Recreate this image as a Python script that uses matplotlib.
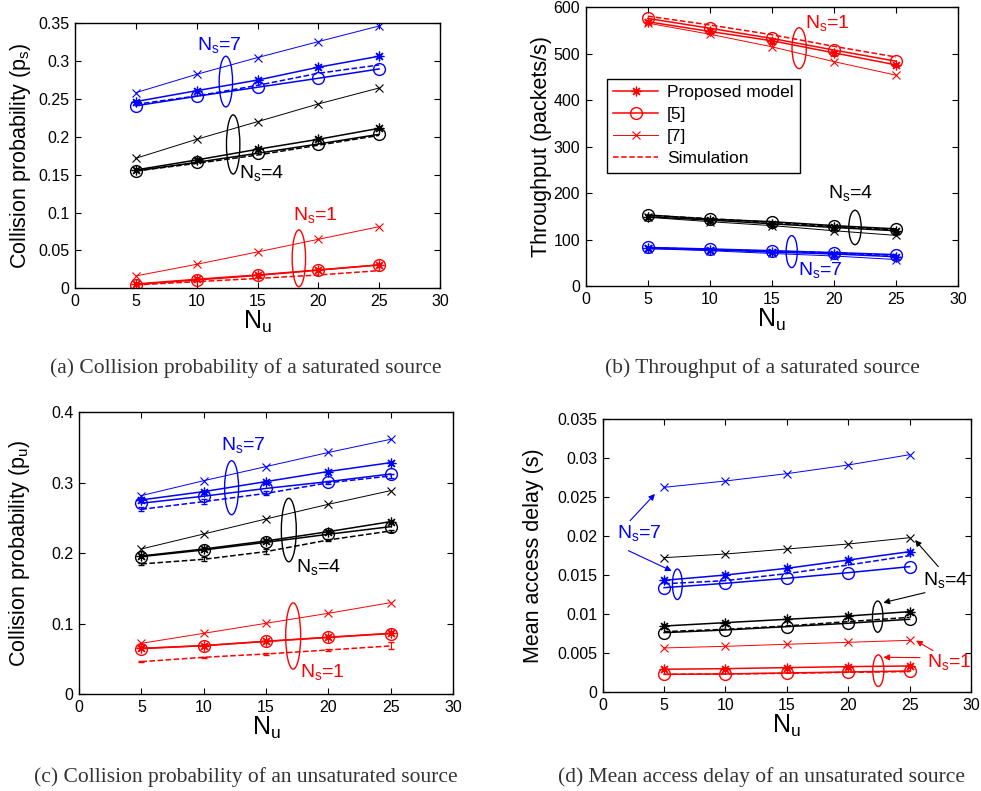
import matplotlib
matplotlib.use("Agg")
import matplotlib.pyplot as plt
from matplotlib.patches import Ellipse

plt.rcParams['font.family'] = ['Liberation Sans', 'DejaVu Sans']
plt.rcParams['mathtext.default'] = 'regular'

# x values
Nu = [5, 10, 15, 20, 25]
ns_colors = ['red', 'black', 'blue']   # Ns = 1, 4, 7

# (a) collision probability, saturated  -- lists ordered Ns=1, 4, 7
ps_prop = [[0.0057, 0.0119, 0.0176, 0.0242, 0.0308],
           [0.1563, 0.1695, 0.1836, 0.1968, 0.2113],
           [0.2466, 0.2610, 0.2750, 0.2920, 0.3065]]
ps_ref5 = [[0.0050, 0.0110, 0.0170, 0.0240, 0.0310],
           [0.1550, 0.1664, 0.1783, 0.1906, 0.2034],
           [0.2410, 0.2536, 0.2655, 0.2774, 0.2897]]
ps_ref7 = [[0.0163, 0.0317, 0.0480, 0.0647, 0.0814],
           [0.1717, 0.1968, 0.2201, 0.2435, 0.2646],
           [0.2584, 0.2826, 0.3047, 0.3258, 0.3465]]
ps_sim = [[0.0044, 0.0088, 0.0130, 0.0176, 0.0233],
          [0.1550, 0.1650, 0.1760, 0.1890, 0.2020],
          [0.2430, 0.2540, 0.2680, 0.2840, 0.2950]]

# (b) throughput, saturated
thr_prop = [[569, 548, 528, 502, 476],
            [149, 142, 134, 126, 119],
            [81, 78, 73, 69, 63]]
thr_ref5 = [[576, 555, 533, 508, 484],
            [153, 144, 138.5, 130, 123],
            [83, 79.7, 76, 72, 67.5]]
thr_ref7 = [[566, 542, 515, 483, 454],
            [148, 138.5, 130, 119, 109],
            [80.5, 76, 70, 64.6, 57]]
thr_sim = [[581, 562, 541, 516, 493],
           [152, 145, 137, 128, 121],
           [82, 79, 75, 71, 66]]

# (c) collision probability, unsaturated
pu_prop = [[0.0652, 0.0690, 0.0752, 0.0809, 0.0865],
           [0.1962, 0.2061, 0.2175, 0.2307, 0.2449],
           [0.2757, 0.2875, 0.3017, 0.3160, 0.3286]]
pu_ref5 = [[0.0648, 0.0690, 0.0750, 0.0807, 0.0862],
           [0.1953, 0.2047, 0.2156, 0.2270, 0.2378],
           [0.2710, 0.2810, 0.2920, 0.3017, 0.3125]]
pu_ref7 = [[0.0723, 0.0865, 0.1007, 0.1149, 0.1300],
           [0.2061, 0.2274, 0.2487, 0.2695, 0.2889],
           [0.2818, 0.3030, 0.3230, 0.3430, 0.3617]]
pu_sim = [[0.0463, 0.0525, 0.0572, 0.0629, 0.0686],
          [0.1849, 0.1915, 0.2024, 0.2189, 0.2317],
          [0.2624, 0.2733, 0.2850, 0.3000, 0.3097]]
pu_err = [[0.001, 0.001, 0.001, 0.002, 0.005],
          [0.002, 0.003, 0.004, 0.002, 0.002],
          [0.003, 0.004, 0.003, 0.002, 0.003]]

# (d) mean access delay, unsaturated
dl_prop = [[0.00295, 0.00303, 0.00316, 0.00329, 0.00337],
           [0.00849, 0.00892, 0.00935, 0.00977, 0.01033],
           [0.01434, 0.01502, 0.01588, 0.01694, 0.01801]]
dl_ref5 = [[0.00230, 0.00235, 0.00248, 0.00260, 0.00273],
           [0.00764, 0.00798, 0.00841, 0.00884, 0.00935],
           [0.01340, 0.01396, 0.01460, 0.01532, 0.01609]]
dl_ref7 = [[0.00568, 0.00589, 0.00615, 0.00640, 0.00666],
           [0.01724, 0.01771, 0.01835, 0.01899, 0.01980],
           [0.02625, 0.02706, 0.02800, 0.02911, 0.03043]]
dl_sim = [[0.00230, 0.00235, 0.00243, 0.00256, 0.00265],
          [0.00777, 0.00807, 0.00850, 0.00905, 0.00960],
          [0.01390, 0.01430, 0.01520, 0.01630, 0.01750]]

W, H = 981, 791
fig = plt.figure(figsize=(W / 100, H / 100), dpi=100)


def px_axes(left, top, right, bottom):
    return fig.add_axes([left / W, 1 - bottom / H, (right - left) / W, (bottom - top) / H])


def draw(ax, prop, ref5, ref7, sim, err=None):
    handles = []
    for k in range(3):
        c = ns_colors[k]
        h1, = ax.plot(Nu, prop[k], '-', color=c, lw=1.1, marker=(8, 2, 0), ms=7, mew=0.9)
        h2, = ax.plot(Nu, ref5[k], '-', color=c, lw=1.1, marker='o', ms=8.5, mfc='none', mew=1.0)
        h3, = ax.plot(Nu, ref7[k], '-', color=c, lw=0.7, marker='x', ms=6, mew=0.8)
        if err is None:
            h4, = ax.plot(Nu, sim[k], '--', color=c, lw=1.1)
        else:
            eb = ax.errorbar(Nu, sim[k], yerr=err[k], fmt='--', color=c, lw=1.1,
                             elinewidth=0.8, capsize=2)
            h4 = eb[0]
        if k == 0:
            handles = [h1, h2, h3, h4]
    return handles


def style(ax, ylim, yticks, ylabels, ylabel, labx):
    ax.set_xlim(0, 30)
    ax.set_xticks(range(0, 31, 5))
    ax.set_ylim(*ylim)
    ax.set_yticks(yticks)
    ax.set_yticklabels(ylabels)
    ax.tick_params(direction='in', top=True, right=True, length=4, width=0.8,
                   labelsize=11.5, pad=4)
    for s in ax.spines.values():
        s.set_linewidth(1.0)
    ax.set_ylabel(ylabel, fontsize=15.5)
    ax.yaxis.set_label_coords(labx, 0.5)
    ax.set_xlabel('$N_u$', fontsize=18, labelpad=0)


def ell(ax, x, y, w, h, c):
    ax.add_patch(Ellipse((x, y), w, h, fill=False, edgecolor=c, lw=1.0))


# ---- (a)
ax = px_axes(75, 23.3, 440, 288.3)
draw(ax, ps_prop, ps_ref5, ps_ref7, ps_sim)
style(ax, (0, 0.35), [0, 0.05, 0.1, 0.15, 0.2, 0.25, 0.3, 0.35],
      ['0', '0.05', '0.1', '0.15', '0.2', '0.25', '0.3', '0.35'],
      'Collision probability ($p_s$)', -0.115)
ell(ax, 12.4, 0.273, 1.1, 0.067, 'blue')
ell(ax, 13.0, 0.190, 1.1, 0.078, 'black')
ell(ax, 18.4, 0.0396, 1.1, 0.075, 'red')
ax.text(10.0, 0.321, '$N_s$=7', color='blue', fontsize=14, va='center')
ax.text(13.5, 0.152, '$N_s$=4', color='black', fontsize=14, va='center')
ax.text(17.9, 0.097, '$N_s$=1', color='red', fontsize=14, va='center')

# ---- (b)
ax = px_axes(585.7, 7.3, 958, 286)
hs = draw(ax, thr_prop, thr_ref5, thr_ref7, thr_sim)
style(ax, (0, 600), range(0, 601, 100), [str(v) for v in range(0, 601, 100)],
      'Throughput (packets/s)', -0.09)
ell(ax, 17.2, 512, 1.15, 88, 'red')
ell(ax, 21.7, 126, 1.0, 74, 'black')
ell(ax, 16.6, 74, 0.9, 69, 'blue')
ax.text(17.7, 566, '$N_s$=1', color='red', fontsize=14, va='center')
ax.text(19.5, 200, '$N_s$=4', color='black', fontsize=14, va='center')
ax.text(17.1, 34, '$N_s$=7', color='blue', fontsize=14, va='center')
leg = ax.legend(hs, ['Proposed model', '[5]', '[7]', 'Simulation'], loc='upper left',
                bbox_to_anchor=(0.057, 0.743), borderaxespad=0, fontsize=12.5,
                handlelength=2.6, fancybox=False, framealpha=1, edgecolor='black',
                borderpad=0.35, labelspacing=0.4, handletextpad=0.5)
leg.get_frame().set_linewidth(1.0)

# ---- (c)
ax = px_axes(79, 412.3, 453, 694.3)
draw(ax, pu_prop, pu_ref5, pu_ref7, pu_sim, pu_err)
style(ax, (0, 0.4), [0, 0.1, 0.2, 0.3, 0.4], ['0', '0.1', '0.2', '0.3', '0.4'],
      'Collision probability ($p_u$)', -0.125)
ell(ax, 12.24, 0.293, 1.12, 0.0766, 'blue')
ell(ax, 16.83, 0.233, 1.2, 0.09, 'black')
ell(ax, 17.18, 0.0827, 1.2, 0.094, 'red')
ax.text(11.4, 0.354, '$N_s$=7', color='blue', fontsize=14, va='center')
ax.text(17.4, 0.181, '$N_s$=4', color='black', fontsize=14, va='center')
ax.text(17.7, 0.032, '$N_s$=1', color='red', fontsize=14, va='center')

# ---- (d)
ax = px_axes(602.7, 419, 971, 692.3)
draw(ax, dl_prop, dl_ref5, dl_ref7, dl_sim)
dt = [0, 0.005, 0.01, 0.015, 0.02, 0.025, 0.03, 0.035]
style(ax, (0, 0.035), dt, ['0', '0.005', '0.01', '0.015', '0.02', '0.025', '0.03', '0.035'],
      'Mean access delay (s)', -0.16)
ell(ax, 6.08, 0.01383, 0.8, 0.0039, 'blue')
ell(ax, 22.4, 0.00969, 0.85, 0.0040, 'black')
ell(ax, 22.45, 0.00277, 0.9, 0.00405, 'red')
arr = dict(arrowstyle='-|>', lw=0.8, mutation_scale=9, shrinkA=0, shrinkB=0)
ax.text(1.14, 0.02036, '$N_s$=7', color='blue', fontsize=14, va='center')
ax.annotate('', xy=(4.26, 0.0254), xytext=(2.23, 0.02198), arrowprops=dict(arr, color='blue'))
ax.annotate('', xy=(5.62, 0.01554), xytext=(2.09, 0.01814), arrowprops=dict(arr, color='blue'))
ax.text(26.07, 0.01438, '$N_s$=4', color='black', fontsize=14, va='center')
ax.annotate('', xy=(25.44, 0.0195), xytext=(27.34, 0.01609), arrowprops=dict(arr, color='black'))
ax.annotate('', xy=(22.86, 0.01148), xytext=(26.25, 0.01276), arrowprops=dict(arr, color='black'))
ax.text(26.4, 0.00393, '$N_s$=1', color='red', fontsize=14, va='center')
ax.annotate('', xy=(25.52, 0.00662), xytext=(26.9, 0.00534), arrowprops=dict(arr, color='red'))
ax.annotate('', xy=(22.86, 0.00448), xytext=(25.85, 0.00444), arrowprops=dict(arr, color='red'))

# captions
cap = dict(family=['Liberation Serif', 'DejaVu Serif'], fontsize=15.5, color='#333333',
           ha='center', va='center')
fig.text(246 / W, 1 - 368 / H, '(a) Collision probability of a saturated source', **cap)
fig.text(762 / W, 1 - 368 / H, '(b) Throughput of a saturated source', **cap)
fig.text(246 / W, 1 - 777 / H, '(c) Collision probability of an unsaturated source', **cap)
fig.text(762 / W, 1 - 777 / H, '(d) Mean access delay of an unsaturated source', **cap)

fig.savefig('out.png', dpi=100)
